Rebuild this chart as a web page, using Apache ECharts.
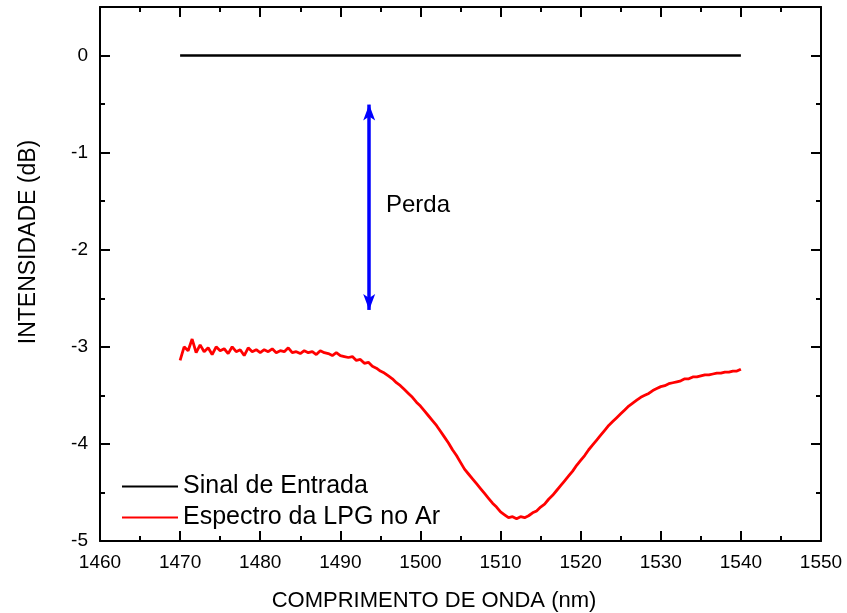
<!DOCTYPE html>
<html>
<head>
<meta charset="utf-8">
<script src="https://cdn.jsdelivr.net/npm/echarts@6/dist/echarts.min.js"></script>
<style>html,body{margin:0;padding:0;background:#fff}#c{width:847px;height:613px}</style>
</head>
<body>
<div id="c"></div>
<script>
// ---- data ----
const inputWl = [1470, 1540];
const inputDb = [0, 0];

const wavelengths = [
1470.0,1470.5,1471.0,1471.5,1472.0,1472.5,1473.0,1473.5,1474.0,1474.5,
1475.0,1475.5,1476.0,1476.5,1477.0,1477.5,1478.0,1478.5,1479.0,1479.5,
1480.0,1480.5,1481.0,1481.5,1482.0,1482.5,1483.0,1483.5,1484.0,1484.5,
1485.0,1485.5,1486.0,1486.5,1487.0,1487.5,1488.0,1488.5,1489.0,1489.5,
1490.0,1490.5,1491.0,1491.5,1492.0,1492.5,1493.0,1493.5,1494.0,1494.5,
1495.0,1495.5,1496.0,1496.5,1497.0,1497.5,1498.0,1498.5,1499.0,1499.5,
1500.0,1500.5,1501.0,1501.5,1502.0,1502.5,1503.0,1503.5,1504.0,1504.5,
1505.0,1505.5,1506.0,1506.5,1507.0,1507.5,1508.0,1508.5,1509.0,1509.5,
1510.0,1510.5,1511.0,1511.5,1512.0,1512.5,1513.0,1513.5,1514.0,1514.5,
1515.0,1515.5,1516.0,1516.5,1517.0,1517.5,1518.0,1518.5,1519.0,1519.5,
1520.0,1520.5,1521.0,1521.5,1522.0,1522.5,1523.0,1523.5,1524.0,1524.5,
1525.0,1525.5,1526.0,1526.5,1527.0,1527.5,1528.0,1528.5,1529.0,1529.5,
1530.0,1530.5,1531.0,1531.5,1532.0,1532.5,1533.0,1533.5,1534.0,1534.5,
1535.0,1535.5,1536.0,1536.5,1537.0,1537.5,1538.0,1538.5,1539.0,1539.5,
1540.0
];
const lpgDb = [
-3.14,-3.00,-3.04,-2.92,-3.06,-2.98,-3.05,-3.01,-3.08,-3.00,
-3.04,-3.02,-3.07,-3.00,-3.05,-3.03,-3.09,-3.01,-3.05,-3.03,
-3.06,-3.03,-3.05,-3.02,-3.06,-3.04,-3.05,-3.01,-3.06,-3.05,
-3.07,-3.04,-3.06,-3.05,-3.08,-3.04,-3.06,-3.07,-3.09,-3.06,
-3.09,-3.10,-3.11,-3.10,-3.14,-3.13,-3.17,-3.16,-3.20,-3.22,
-3.25,-3.27,-3.30,-3.33,-3.37,-3.40,-3.44,-3.48,-3.52,-3.57,
-3.61,-3.66,-3.71,-3.76,-3.81,-3.87,-3.93,-3.99,-4.06,-4.12,
-4.19,-4.26,-4.31,-4.36,-4.41,-4.46,-4.51,-4.56,-4.61,-4.65,
-4.70,-4.73,-4.76,-4.75,-4.77,-4.75,-4.76,-4.74,-4.71,-4.69,
-4.65,-4.62,-4.57,-4.53,-4.48,-4.43,-4.38,-4.33,-4.28,-4.22,
-4.17,-4.12,-4.06,-4.01,-3.96,-3.91,-3.86,-3.81,-3.77,-3.73,
-3.69,-3.65,-3.61,-3.58,-3.55,-3.52,-3.50,-3.48,-3.45,-3.43,
-3.41,-3.40,-3.38,-3.37,-3.36,-3.35,-3.33,-3.33,-3.31,-3.31,
-3.30,-3.29,-3.29,-3.28,-3.27,-3.27,-3.26,-3.26,-3.25,-3.25,
-3.23
];
const arrowWl = 1493.6;
const arrowTop = -0.505;
const arrowBottom = -2.62;

const seriesNames = ['Sinal de Entrada', 'Espectro da LPG no Ar'];
const xTitle = 'COMPRIMENTO DE ONDA (nm)';
const yTitle = 'INTENSIDADE (dB)';
const annotation = 'Perda';

// ---- chart ----
const FONT = '"Liberation Sans", Arial, sans-serif';
const gridRect = { left: 100, right: 26, top: 7, bottom: 72 };
const axisLine = { show: true, onZero: false, lineStyle: { color: '#000', width: 2 } };

function xAx(gridIndex, pos, labels, showLine) {
  return {
    type: 'value', gridIndex, position: pos, min: 1460, max: 1550, interval: 10,
    axisLine: showLine ? axisLine : { show: false, onZero: false },
    axisTick: { show: showLine, inside: true, length: 10, lineStyle: { color: '#000', width: 2 } },
    minorTick: { show: showLine, splitNumber: 2, length: 5, lineStyle: { color: '#000', width: 2 } },
    axisLabel: { show: labels, margin: 12, color: '#000', fontSize: 19, fontFamily: FONT, formatter: v => String(v) },
    splitLine: { show: false }
  };
}
function yAx(gridIndex, pos, interval, len, labels, showLine) {
  return {
    type: 'value', gridIndex, position: pos, min: -5, max: 0.5, interval,
    axisLine: showLine ? axisLine : { show: false, onZero: false },
    axisTick: { show: true, inside: true, length: len, lineStyle: { color: '#000', width: 2 } },
    axisLabel: {
      show: labels, margin: 12, color: '#000', fontSize: 19, fontFamily: FONT,
      formatter: v => (Math.abs(v - Math.round(v)) < 1e-9 ? String(Math.round(v)) : '')
    },
    splitLine: { show: false }
  };
}

const chart = echarts.init(document.getElementById('c'), null, { renderer: 'canvas' });
chart.setOption({
  animation: false,
  backgroundColor: '#fff',
  grid: [
    Object.assign({}, gridRect),
    Object.assign({}, gridRect)
  ],
  xAxis: [
    xAx(0, 'bottom', true, true),
    xAx(0, 'top', false, true),
    xAx(1, 'bottom', false, false)
  ],
  yAxis: [
    yAx(0, 'left', 1, 10, true, true),
    yAx(0, 'right', 1, 10, false, true),
    yAx(1, 'left', 0.5, 5, false, false),
    yAx(1, 'right', 0.5, 5, false, false)
  ],
  legend: {
    orient: 'vertical', left: 117, top: 469,
    itemWidth: 56, itemHeight: 24, itemGap: 6,
    textStyle: { fontSize: 25, fontFamily: FONT, color: '#000', padding: 0, lineHeight: 24 },
    data: [
      { name: seriesNames[0], icon: 'path://M0,11 L56,11 L56,13.2 L0,13.2 Z', itemStyle: { color: '#000' } },
      { name: seriesNames[1], icon: 'path://M0,11 L56,11 L56,13.2 L0,13.2 Z', itemStyle: { color: '#ff0000' } }
    ]
  },
  series: [
    {
      name: seriesNames[0], type: 'line', xAxisIndex: 0, yAxisIndex: 0,
      data: inputWl.map((w, i) => [w, inputDb[i]]),
      showSymbol: false, symbol: 'none',
      lineStyle: { color: '#000', width: 2.5 }, itemStyle: { color: '#000' },
      markLine: {
        silent: true, symbol: ['arrow', 'arrow'], symbolSize: [9, 16],
        label: { show: false },
        lineStyle: { color: '#0000ff', width: 3.5, type: 'solid' },
        itemStyle: { color: '#0000ff' },
        data: [[{ coord: [arrowWl, arrowTop] }, { coord: [arrowWl, arrowBottom] }]]
      }
    },
    {
      name: seriesNames[1], type: 'line', xAxisIndex: 0, yAxisIndex: 0,
      data: wavelengths.map((w, i) => [w, lpgDb[i]]),
      showSymbol: false, symbol: 'none',
      lineStyle: { color: '#ff0000', width: 2.8 }, itemStyle: { color: '#ff0000' }
    }
  ],
  graphic: [
    { type: 'text', x: 386, y: 205, style: { text: annotation, font: '24px ' + FONT, fill: '#000', textAlign: 'left', textVerticalAlign: 'middle' } },
    { type: 'text', x: 434, y: 601, style: { text: xTitle, font: '22px ' + FONT, fill: '#000', textAlign: 'center', textVerticalAlign: 'middle' } },
    { type: 'text', x: 29, y: 242, rotation: Math.PI / 2, style: { text: yTitle, font: '23px ' + FONT, fill: '#000', textAlign: 'center', textVerticalAlign: 'middle' } }
  ]
});
</script>
</body>
</html>
